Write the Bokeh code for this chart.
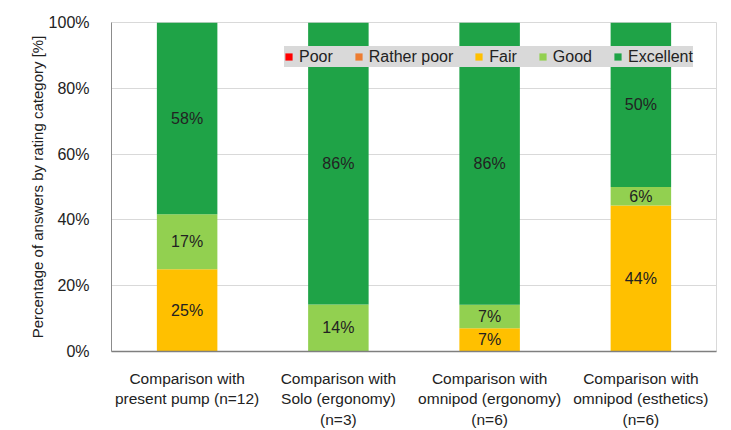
from bokeh.plotting import figure
from bokeh.models import ColumnDataSource, Range1d, FixedTicker, PrintfTickFormatter, Legend, LegendItem
from bokeh.core.properties import value
from bokeh.embed import file_html
from bokeh.resources import INLINE

categories = ["Comparison with\npresent pump (n=12)",
              "Comparison with\nSolo (ergonomy)\n(n=3)",
              "Comparison with\nomnipod (ergonomy)\n(n=6)",
              "Comparison with\nomnipod (esthetics)\n(n=6)"]
series = ["Poor", "Rather poor", "Fair", "Good", "Excellent"]
poor = [0, 0, 0, 0]
rather_poor = [0, 0, 0, 0]
fair = [25.0, 0, 7.1, 44.4]
good = [16.7, 14.3, 7.1, 5.6]
excellent = [58.3, 85.7, 85.8, 50.0]
colors = ["#ff0000", "#ed7d31", "#ffc000", "#92d050", "#1fa347"]
y_ticks = [0, 20, 40, 60, 80, 100]

FONT = "Liberation Sans"

x = list(range(len(categories)))
data = {"x": x, "Poor": poor, "Rather poor": rather_poor, "Fair": fair,
        "Good": good, "Excellent": excellent}
src = ColumnDataSource(data)

p = figure(width=731, height=430, output_backend="svg", toolbar_location=None,
           x_range=Range1d(-0.5, len(categories) - 0.5), y_range=Range1d(0, 100),
           min_border_left=111, min_border_right=15, min_border_top=22, min_border_bottom=79)

renderers = p.vbar_stack(series, x="x", width=0.4, source=src, color=colors, line_color=None)

# segment labels
lx, ly, lt = [], [], []
bottoms = [0.0] * len(categories)
for name in series:
    vals = data[name]
    for i, v in enumerate(vals):
        if v > 0:
            lx.append(i)
            ly.append(bottoms[i] + v / 2)
            lt.append("%d%%" % round(v))
        bottoms[i] += v
p.text(x=lx, y=ly, text=lt, text_align="center", text_baseline="middle",
       text_font=value(FONT), text_font_size="16px", text_color="#222222")

# axes
p.xaxis.ticker = FixedTicker(ticks=x)
p.xaxis.major_label_overrides = {i: c for i, c in enumerate(categories)}
p.xaxis.major_label_text_font = FONT
p.xaxis.major_label_text_font_size = "15.5px"
p.xaxis.major_label_text_line_height = 1.22
p.xaxis.major_label_text_color = "#222222"
p.xaxis.major_label_standoff = 12
p.xaxis.major_tick_line_color = None
p.xaxis.minor_tick_line_color = None
p.xaxis.axis_line_color = "#7f7f7f"
p.xaxis.axis_line_width = 1.5

p.yaxis.ticker = FixedTicker(ticks=y_ticks)
p.yaxis.formatter = PrintfTickFormatter(format="%d%%")
p.yaxis.major_label_text_font = FONT
p.yaxis.major_label_text_font_size = "16px"
p.yaxis.major_label_text_color = "#222222"
p.yaxis.major_label_standoff = 16
p.yaxis.major_tick_line_color = None
p.yaxis.minor_tick_line_color = None
p.yaxis.axis_line_color = "#8c8c8c"
p.yaxis.axis_label = "Percentage of answers by rating category [%]"
p.yaxis.axis_label_text_font = FONT
p.yaxis.axis_label_text_font_size = "15px"
p.yaxis.axis_label_text_font_style = "normal"
p.yaxis.axis_label_text_color = "#222222"
p.yaxis.axis_label_standoff = 0

p.xgrid.grid_line_color = None
p.ygrid.grid_line_color = "#d9d9d9"
p.outline_line_color = "#d9d9d9"

legend = Legend(items=[LegendItem(label=s, renderers=[r]) for s, r in zip(series, renderers)],
                orientation="horizontal", location=(173, 284))
legend.background_fill_color = "#d9d9d9"
legend.background_fill_alpha = 1.0
legend.border_line_color = None
legend.label_text_font = FONT
legend.label_text_font_size = "16px"
legend.label_text_color = "#222222"
legend.glyph_width = 9
legend.glyph_height = 9
legend.label_standoff = 6
legend.spacing = 21
legend.padding = 6
legend.margin = 0
legend.label_height = 21
p.add_layout(legend)

open("out.html", "w").write(file_html(p, INLINE))
